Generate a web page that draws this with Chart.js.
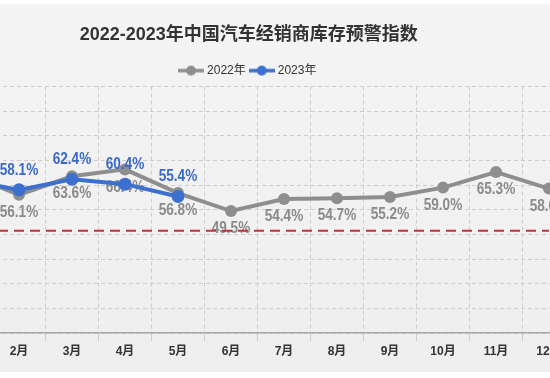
<!DOCTYPE html>
<html>
<head>
<meta charset="utf-8">
<script src="https://cdn.jsdelivr.net/npm/chart.js@4"></script>
<style>
  html, body { margin: 0; padding: 0; }
  body {
    width: 550px; height: 378px; overflow: hidden; position: relative;
    background: #fff;
  }
  .panel {
    position: absolute; left: 0; top: 4px; width: 550px; height: 368px;
    background: linear-gradient(180deg, #f4f4f4 0%, #f1f1f1 60%, #eeeeee 100%);
  }
  #chart { position: absolute; left: -78px; top: 0; }
</style>
</head>
<body>
<div class="panel"></div>
<canvas id="chart" width="660" height="378"></canvas>
<script>
const months = ['1月', '2月', '3月', '4月', '5月', '6月', '7月', '8月', '9月', '10月', '11月', '12月'];
const index2022 = [64.8, 56.1, 63.6, 66.4, 56.8, 49.5, 54.4, 54.7, 55.2, 59.0, 65.3, 58.6];
const index2023 = [62.2, 58.1, 62.4, 60.4, 55.4];
const warningLine = [41.5, 41.5, 41.5, 41.5, 41.5, 41.5, 41.5, 41.5, 41.5, 41.5, 41.5, 41.5];
const yTicks = [0, 10, 20, 30, 40, 50, 60, 70, 80, 90, 100];

const gray = '#8e8e8e';
const blue = '#3d6fce';
const red = '#c0333c';
const font = '"Liberation Sans", "Noto Sans CJK SC", sans-serif';

function legendMarker(color) {
	const c = document.createElement('canvas');
	c.width = 26;
	c.height = 12;
	const g = c.getContext('2d');
	g.strokeStyle = color;
	g.lineWidth = 3.5;
	g.beginPath();
	g.moveTo(0, 6);
	g.lineTo(26, 6);
	g.stroke();
	g.fillStyle = color;
	g.beginPath();
	g.arc(13, 6, 5, 0, Math.PI * 2);
	g.fill();
	return c;
}

// percent labels, squeezed to look like the narrow bold font of the original
const valueLabels = {
	id: 'valueLabels',
	afterDatasetDraw(chart, args) {
		const ds = chart.data.datasets[args.index];
		if (!ds.labelColor) return;
		const ctx = chart.ctx;
		args.meta.data.forEach((el, i) => {
			ctx.save();
			ctx.font = 'bold 17px ' + font;
			ctx.fillStyle = ds.labelColor;
			ctx.textAlign = 'center';
			ctx.textBaseline = 'middle';
			ctx.translate(el.x, el.y + ds.labelOffset);
			ctx.scale(0.8, 1);
			ctx.fillText(ds.data[i].toFixed(1) + '%', 0, 0);
			ctx.restore();
		});
	},
};

const ctx = document.getElementById('chart').getContext('2d');
const chart = new Chart(ctx, {
	type: 'line',
	data: {
		labels: months,
		datasets: [
			{
				label: '2022年',
				data: index2022,
				borderColor: gray,
				backgroundColor: gray,
				borderWidth: 4,
				pointRadius: 6,
				pointBorderWidth: 0,
				clip: false,
				order: 2,
				labelColor: '#8a8a8a',
				labelOffset: 17.5,
			},
			{
				label: '2023年',
				data: index2023,
				borderColor: blue,
				backgroundColor: blue,
				borderWidth: 4,
				pointRadius: 6.5,
				pointBorderWidth: 0,
				clip: false,
				order: 1,
				labelColor: '#3a69c8',
				labelOffset: -20,
			},
			{
				label: 'warning',
				data: warningLine,
				borderColor: red,
				borderWidth: 2,
				borderDash: [10, 6],
				pointRadius: 0,
				clip: false,
				order: 0,
			},
		],
	},
	options: {
		responsive: false,
		animation: false,
		layout: { padding: { left: 0, right: 6.5, top: 0, bottom: 16.6 } },
		plugins: {
			title: {
				display: true,
				text: '2022-2023年中国汽车经销商库存预警指数',
				color: '#333',
				font: { size: 18, weight: 'bold', family: font },
				padding: { top: 24, bottom: 13 },
			},
			legend: {
				labels: {
					usePointStyle: true,
					pointStyleWidth: 20,
					padding: 6,
					color: '#333',
					font: { size: 12, family: font },
					generateLabels: (c) => [c.data.datasets[0], c.data.datasets[1]].map((ds, i) => ({
						text: ds.label,
						pointStyle: legendMarker(ds.borderColor),
						fillStyle: ds.borderColor,
						strokeStyle: ds.borderColor,
						lineWidth: 0,
						datasetIndex: i,
						fontColor: '#333',
					})),
				},
			},
			tooltip: { enabled: false },
		},
		scales: {
			x: {
				offset: true,
				grid: { offset: true, color: '#cdcdcd', tickColor: '#cdcdcd', tickLength: 8 },
				border: { display: true, color: '#a8a8a8', width: 1.5, dash: [4, 3] },
				ticks: {
					color: '#333',
					maxRotation: 0,
					autoSkip: false,
					padding: 3,
					font: { size: 12, weight: 'bold', family: font },
				},
			},
			y: {
				min: yTicks[0],
				max: yTicks[yTicks.length - 1],
				afterBuildTicks: (axis) => { axis.ticks = yTicks.map(v => ({ value: v })); },
				afterFit: (axis) => { axis.width = 17.5; },
				grid: { color: '#cdcdcd', drawTicks: false },
				border: { display: false, dash: [4, 3] },
				ticks: { display: false },
			},
		},
	},
	plugins: [valueLabels],
});
</script>
</body>
</html>
